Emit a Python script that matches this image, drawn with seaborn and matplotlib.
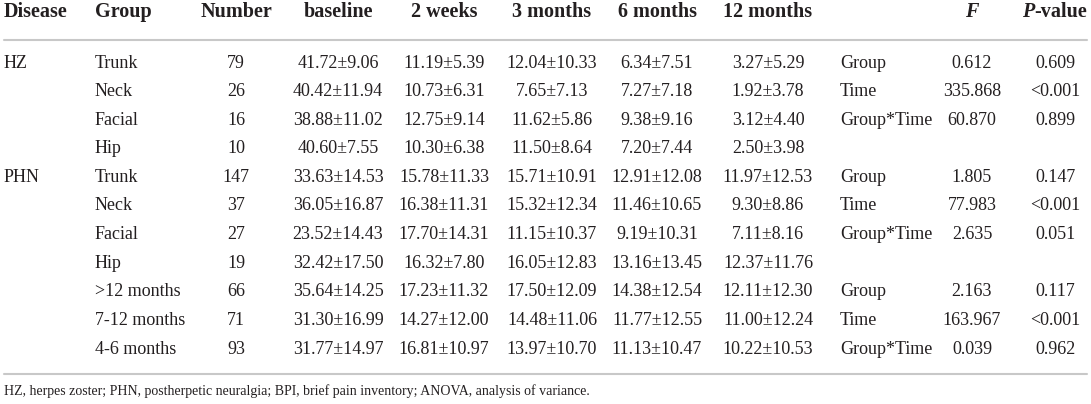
import matplotlib
matplotlib.use('Agg')
import matplotlib.pyplot as plt
import seaborn as sns

# -- table content
headers = ['Disease', 'Group', 'Number', 'baseline', '2 weeks', '3 months', '6 months', '12 months']
diseases = {0: 'HZ', 4: 'PHN'}
groups = ['Trunk', 'Neck', 'Facial', 'Hip', 'Trunk', 'Neck', 'Facial', 'Hip',
          '>12 months', '7-12 months', '4-6 months']
numbers = [79, 26, 16, 10, 147, 37, 27, 19, 66, 71, 93]

baseline = [(41.72, 9.06), (40.42, 11.94), (38.88, 11.02), (40.60, 7.55), (33.63, 14.53),
            (36.05, 16.87), (23.52, 14.43), (32.42, 17.50), (35.64, 14.25), (31.30, 16.99),
            (31.77, 14.97)]
weeks2 = [(11.19, 5.39), (10.73, 6.31), (12.75, 9.14), (10.30, 6.38), (15.78, 11.33),
          (16.38, 11.31), (17.70, 14.31), (16.32, 7.80), (17.23, 11.32), (14.27, 12.00),
          (16.81, 10.97)]
months3 = [(12.04, 10.33), (7.65, 7.13), (11.62, 5.86), (11.50, 8.64), (15.71, 10.91),
           (15.32, 12.34), (11.15, 10.37), (16.05, 12.83), (17.50, 12.09), (14.48, 11.06),
           (13.97, 10.70)]
months6 = [(6.34, 7.51), (7.27, 7.18), (9.38, 9.16), (7.20, 7.44), (12.91, 12.08),
           (11.46, 10.65), (9.19, 10.31), (13.16, 13.45), (14.38, 12.54), (11.77, 12.55),
           (11.13, 10.47)]
months12 = [(3.27, 5.29), (1.92, 3.78), (3.12, 4.40), (2.50, 3.98), (11.97, 12.53),
            (9.30, 8.86), (7.11, 8.16), (12.37, 11.76), (12.11, 12.30), (11.00, 12.24),
            (10.22, 10.53)]

effects = ['Group', 'Time', 'Group*Time']
effect_rows = [0, 1, 2, 4, 5, 6, 8, 9, 10]
f_values = [0.612, 335.868, 60.870, 1.805, 77.983, 2.635, 2.163, 163.967, 0.039]
p_values = ['0.609', '<0.001', '0.899', '0.147', '<0.001', '0.051', '0.117', '<0.001', '0.962']

footnote = ('HZ, herpes zoster; PHN, postherpetic neuralgia; BPI, brief pain inventory; '
            'ANOVA, analysis of variance.')

# -- layout (pixels)
W, H = 1091, 404
col_x = [4, 95, 236, 338, 444, 552, 657, 768]
col_ha = ['left', 'left', 'center', 'center', 'center', 'center', 'center', 'center']
eff_x, f_x, p_x = 840, 972, 1055
header_y, row0_y, row_h = 12, 63, 28.6
top_rule, bottom_rule, foot_y = 40, 374, 391

ink = '#231f20'
rule = '#c8c8c8'

sns.set_theme(style='white')
plt.rcParams['font.family'] = ['Liberation Serif', 'DejaVu Serif']

fig = plt.figure(figsize=(W / 100, H / 100), dpi=100)
ax = fig.add_axes([0, 0, 1, 1])
ax.set_xlim(0, W)
ax.set_ylim(H, 0)
ax.axis('off')

hsize, bsize, fsize = 14.5, 13, 10

for x, ha, h in zip(col_x, col_ha, headers):
    ax.text(x, header_y, h, ha=ha, va='center', fontsize=hsize, fontweight='bold', color=ink)
ax.text(f_x, header_y, 'F', ha='center', va='center', fontsize=hsize,
        fontweight='bold', fontstyle='italic', color=ink)
ax.text(1034, header_y, 'P', ha='right', va='center', fontsize=hsize,
        fontweight='bold', fontstyle='italic', color=ink)
ax.text(1034, header_y, '-value', ha='left', va='center', fontsize=hsize,
        fontweight='bold', color=ink)

sns.lineplot(x=[4, 1087], y=[top_rule, top_rule], ax=ax, color=rule, linewidth=1.5)
sns.lineplot(x=[4, 1087], y=[bottom_rule, bottom_rule], ax=ax, color=rule, linewidth=1.5)

series = [baseline, weeks2, months3, months6, months12]
for i, g in enumerate(groups):
    y = row0_y + i * row_h
    if i in diseases:
        ax.text(col_x[0], y, diseases[i], ha='left', va='center', fontsize=bsize, color=ink)
    ax.text(col_x[1], y, g, ha='left', va='center', fontsize=bsize, color=ink)
    ax.text(col_x[2], y, str(numbers[i]), ha='center', va='center', fontsize=bsize, color=ink)
    for x, s in zip(col_x[3:], series):
        m, sd = s[i]
        ax.text(x, y, f'{m:.2f}\u00b1{sd:.2f}', ha='center', va='center',
                fontsize=bsize, color=ink)

for k, r in enumerate(effect_rows):
    y = row0_y + r * row_h
    ax.text(eff_x, y, effects[k % 3], ha='left', va='center', fontsize=bsize, color=ink)
    ax.text(f_x, y, f'{f_values[k]:.3f}', ha='center', va='center', fontsize=bsize, color=ink)
    ax.text(p_x, y, p_values[k], ha='center', va='center', fontsize=bsize, color=ink)

ax.text(4, foot_y, footnote, ha='left', va='center', fontsize=fsize, color=ink)

fig.savefig('out.png', dpi=100, facecolor='white')
